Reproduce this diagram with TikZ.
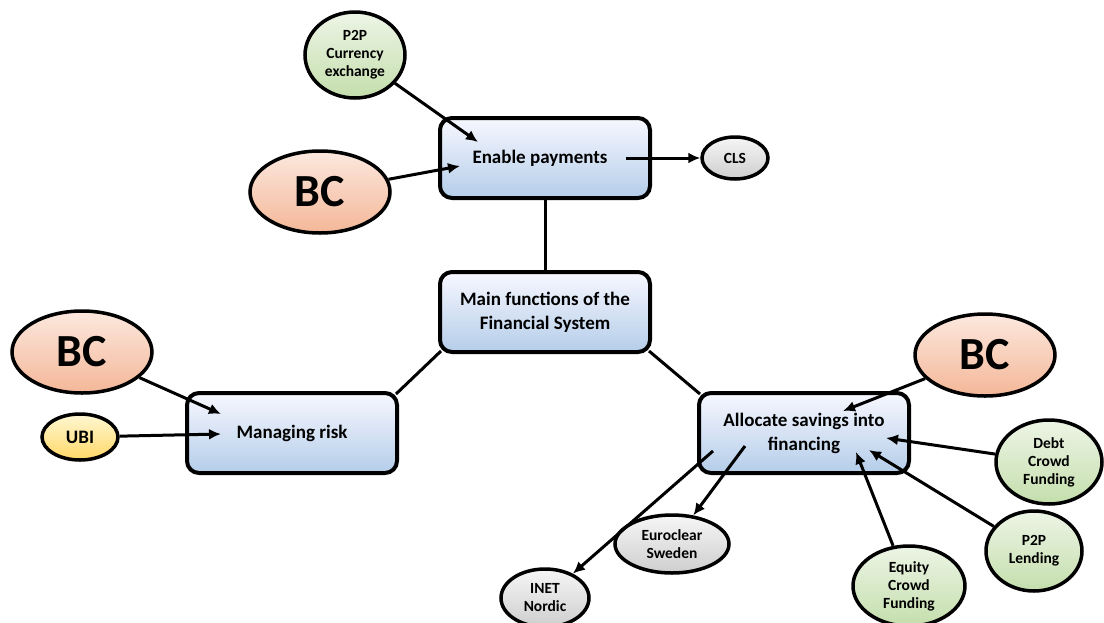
\documentclass[tikz,border=0pt]{standalone}
\usepackage{fontspec}
\setmainfont{Carlito}
\usetikzlibrary{shapes.geometric,arrows.meta,calc}
\begin{document}
\begin{tikzpicture}[x=1pt,y=-1pt,
  fbox/.style={draw=black,line width=4pt,rounded corners=12pt,
    minimum width=210pt,minimum height=80pt,align=center,
    top color=blue!3!white,bottom color={rgb,255:red,180;green,205;blue,233},
    font=\bfseries\fontsize{19}{24}\selectfont},
  oval/.style={ellipse,draw=black,line width=3.5pt,inner sep=0pt,align=center,
    font=\bfseries\fontsize{15.5}{18}\selectfont},
  bc/.style={oval,minimum width=140pt,minimum height=82pt,
    top color={rgb,255:red,252;green,232;blue,222},bottom color={rgb,255:red,244;green,183;blue,152},
    font=\bfseries\fontsize{46}{50}\selectfont},
  greenov/.style={oval,top color={rgb,255:red,237;green,245;blue,230},bottom color={rgb,255:red,196;green,222;blue,172}},
  grayov/.style={oval,top color={rgb,255:red,246;green,246;blue,246},bottom color={rgb,255:red,206;green,206;blue,206}},
  yellowov/.style={oval,top color={rgb,255:red,255;green,247;blue,212},bottom color={rgb,255:red,255;green,216;blue,102},
    font=\bfseries\fontsize{19}{22}\selectfont},
  conn/.style={line width=3pt},
  arr/.style={conn,-{Latex[length=12pt,width=11pt]}}]
\useasboundingbox (0,0) rectangle (1104,622);

% main function boxes
\node[fbox] (pay)   at (545,158) {Enable payments\hspace*{10pt}};
\node[fbox] (main)  at (545,312) {Main functions of the\\Financial System};
\node[fbox] (risk)  at (292,433) {Managing risk};
\node[fbox] (alloc) at (804,433) {Allocate savings into\\financing};

% surrounding ovals
\node[greenov,minimum width=100pt,minimum height=86pt] (p2pc) at (355,55) {P2P\\Currency\\exchange};
\node[bc] (bc1) at (320,192) {BC};
\node[grayov,minimum width=66pt,minimum height=42pt] (cls) at (735,158) {CLS};
\node[bc] (bc2) at (82,352) {BC};
\node[yellowov,minimum width=76pt,minimum height=46pt] (ubi) at (80,437) {UBI};
\node[bc] (bc3) at (985,355) {BC};
\node[greenov,minimum width=106pt,minimum height=84pt] (debt) at (1049,462) {Debt\\Crowd\\Funding};
\node[greenov,minimum width=96pt,minimum height=80pt] (lend) at (1034,551) {P2P\\Lending};
\node[greenov,minimum width=112pt,minimum height=80pt] (equity) at (909,586) {Equity\\Crowd\\Funding};
\node[grayov,minimum width=114pt,minimum height=58pt] (euro) at (672,544) {Euroclear\\Sweden};
\node[grayov,minimum width=88pt,minimum height=58pt] (inet) at (545,598) {INET\\Nordic};

% arrow ends inside the boxes
\coordinate (pay-a) at (478,142);
\coordinate (pay-b) at (460,166);
\coordinate (pay-o) at (626,158);
\coordinate (risk-a) at (221,414);
\coordinate (risk-b) at (221,434);
\coordinate (alloc-a) at (843,411);
\coordinate (alloc-b) at (886,438);
\coordinate (alloc-c) at (869,450);
\coordinate (alloc-d) at (856,452);
\coordinate (alloc-e) at (745,446);
\coordinate (alloc-f) at (713,451);

% tree links
\draw[conn] (pay.south) -- (main.north);
\draw[conn] (main.south west) ++(3,-3) -- ($(risk.north east)+(-3,3)$);
\draw[conn] (main.south east) ++(-3,-3) -- ($(alloc.north west)+(3,3)$);

% arrows
\draw[arr] (p2pc) -- (pay-a);
\draw[arr] (bc1) -- (pay-b);
\draw[arr] (pay-o) -- (cls);
\draw[arr] (bc2) -- (risk-a);
\draw[arr] (ubi) -- (risk-b);
\draw[arr] (bc3) -- (alloc-a);
\draw[arr] (debt) -- (alloc-b);
\draw[arr] (lend) -- (alloc-c);
\draw[arr] (equity) -- (alloc-d);
\draw[arr] (alloc-e) -- (euro);
\draw[arr] (alloc-f) -- (inet);
\end{tikzpicture}
\end{document}
